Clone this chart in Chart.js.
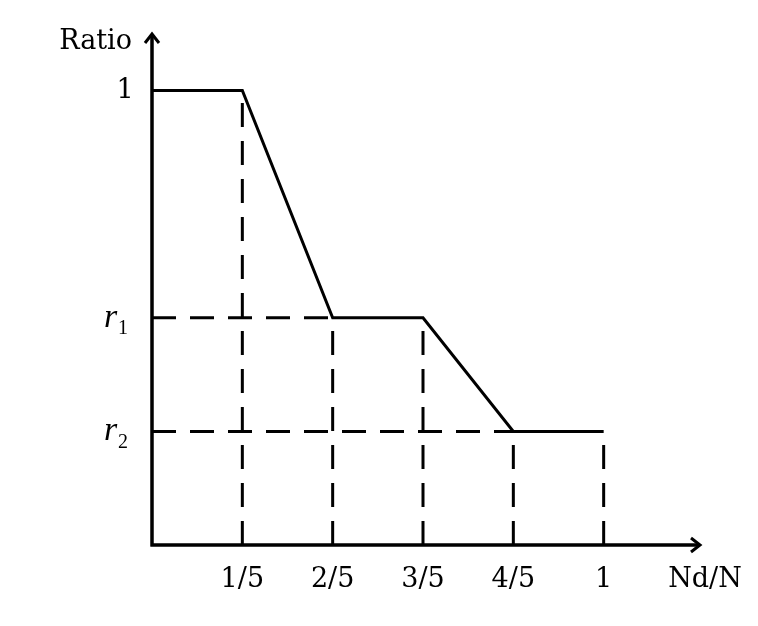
<!DOCTYPE html>
<html>
<head>
<meta charset="utf-8">
<script src="https://cdn.jsdelivr.net/npm/chart.js@4"></script>
<style>
  html, body { margin: 0; padding: 0; background: #fff; }
  #wrap { width: 758px; height: 626px; }
</style>
</head>
<body>
<div id="wrap"><canvas id="ratioChart" width="758" height="626"></canvas></div>
<script>
// Breakpoints of the ratio curve
const r1 = 0.5;
const r2 = 0.25;
const nd = [0, 0.2, 0.4, 0.6, 0.8, 1];
const ratio = [1, 1, r1, r1, r2, r2];
const xTickLabels = ["1/5", "2/5", "3/5", "4/5", "1"];
const xTickValues = [0.2, 0.4, 0.6, 0.8, 1];
const yTicks = [
  { value: 1, main: "1", sub: "" },
  { value: r1, main: "r", sub: "1" },
  { value: r2, main: "r", sub: "2" }
];

const dashStyle = [24, 14];
const labelFont = "27px 'DejaVu Serif', serif";

// guide lines: vertical drops from every breakpoint, horizontal to the y axis
const guideSets = [];
nd.forEach((x, i) => {
  if (x === 0) return;
  guideSets.push([{ x: x, y: 0 }, { x: x, y: ratio[i] }]);
});
guideSets.push([{ x: 0, y: r1 }, { x: 0.4, y: r1 }]);
guideSets.push([{ x: 0, y: r2 }, { x: 0.8, y: r2 }]);

const datasets = guideSets.map(pts => ({
  data: pts,
  borderColor: "#000",
  borderWidth: 3,
  borderDash: dashStyle,
  pointRadius: 0,
  fill: false
}));

datasets.push({
  data: nd.map((x, i) => ({ x: x, y: ratio[i] })),
  borderColor: "#000",
  borderWidth: 3,
  pointRadius: 0,
  fill: false
});

// Axes with arrows and labels
const axesPlugin = {
  id: "axesArrows",
  afterDatasetsDraw(chart) {
    const { ctx, scales: { x, y } } = chart;
    const x0 = x.getPixelForValue(0);
    const y0 = y.getPixelForValue(0);
    const xEnd = x.getPixelForValue(1.2) + 6;
    const yEnd = y.getPixelForValue(1.12) - 2;

    ctx.save();
    ctx.strokeStyle = "#000";
    ctx.lineWidth = 3.5;
    ctx.lineCap = "butt";
    ctx.beginPath();
    ctx.moveTo(x0, y0 + 1.5);
    ctx.lineTo(x0, yEnd);
    ctx.moveTo(x0 - 1.5, y0);
    ctx.lineTo(xEnd, y0);
    ctx.stroke();

    ctx.lineWidth = 3;
    ctx.lineJoin = "miter";
    ctx.beginPath();
    ctx.moveTo(x0 - 7, yEnd + 9);
    ctx.lineTo(x0, yEnd);
    ctx.lineTo(x0 + 7, yEnd + 9);
    ctx.moveTo(xEnd - 9, y0 - 7);
    ctx.lineTo(xEnd, y0);
    ctx.lineTo(xEnd - 9, y0 + 7);
    ctx.stroke();

    ctx.fillStyle = "#000";
    ctx.font = labelFont;
    ctx.textBaseline = "middle";

    ctx.textAlign = "center";
    xTickValues.forEach((v, i) => {
      ctx.fillText(xTickLabels[i], x.getPixelForValue(v), 580);
    });
    ctx.fillText("Nd/N", 705, 580);

    ctx.textAlign = "right";
    ctx.fillText("Ratio", 132, 42);

    yTicks.forEach(t => {
      const py = y.getPixelForValue(t.value);
      if (!t.sub) {
        ctx.font = labelFont;
        ctx.textAlign = "center";
        ctx.fillText(t.main, 125, py);
      } else {
        ctx.textAlign = "left";
        ctx.font = "italic 34px 'Liberation Serif', serif";
        ctx.fillText(t.main, 104, py);
        ctx.font = "20px 'Liberation Serif', serif";
        ctx.fillText(t.sub, 118, py + 11);
      }
    });
    ctx.restore();
  }
};

new Chart(document.getElementById("ratioChart"), {
  type: "line",
  data: { datasets },
  options: {
    responsive: false,
    animation: false,
    layout: { padding: { left: 152, right: 64, top: 36, bottom: 81 } },
    plugins: { legend: { display: false }, tooltip: { enabled: false } },
    scales: {
      x: { type: "linear", min: 0, max: 1.2, display: false },
      y: { type: "linear", min: 0, max: 1.12, display: false }
    }
  },
  plugins: [axesPlugin]
});
</script>
</body>
</html>
